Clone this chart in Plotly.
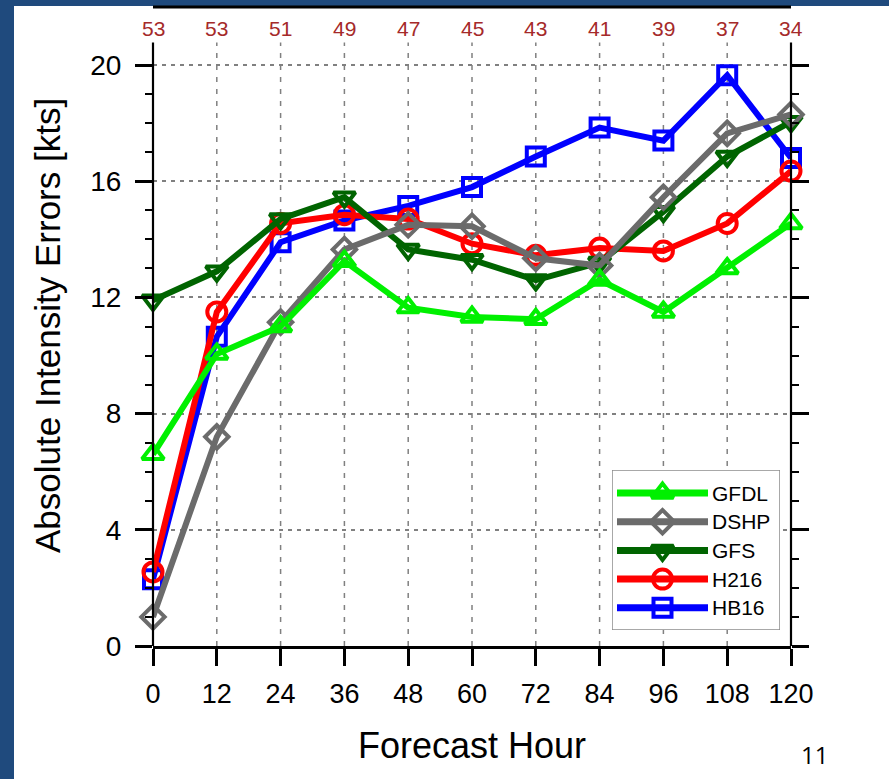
import plotly.graph_objects as go

# ---------------- data ----------------
hours = [0, 12, 24, 36, 48, 60, 72, 84, 96, 108, 120]
case_counts = [53, 53, 51, 49, 47, 45, 43, 41, 39, 37, 34]

gfdl = [6.6, 10.05, 11.0, 13.25, 11.65, 11.33, 11.25, 12.6, 11.5, 13.0, 14.55]
dshp = [1.0, 7.2, 11.15, 13.65, 14.5, 14.45, 13.35, 13.1, 15.45, 17.65, 18.3]
gfs = [11.9, 12.9, 14.7, 15.45, 13.65, 13.3, 12.6, 13.2, 14.95, 16.85, 18.05]
h216 = [2.55, 11.5, 14.55, 14.85, 14.7, 13.85, 13.45, 13.7, 13.6, 14.55, 16.35]
hb16 = [2.3, 10.65, 13.9, 14.65, 15.15, 15.8, 16.85, 17.85, 17.4, 19.65, 16.8]

legend_names = ["GFDL", "DSHP", "GFS", "H216", "HB16"]
y_major = [0, 4, 8, 12, 16, 20]
y_minor = [v for v in range(0, 21) if v % 4 != 0]

# ---------------- styles ----------------
FONT = "Liberation Sans"
styles = {
    "GFDL": dict(color="#00f000", symbol="triangle-up-open", size=19),
    "DSHP": dict(color="#6b6b6b", symbol="diamond-open", size=18),
    "GFS": dict(color="#006400", symbol="triangle-down-open", size=19),
    "H216": dict(color="#ff0000", symbol="circle-open", size=19),
    "HB16": dict(color="#0000ff", symbol="square-open", size=18),
}
series = {"GFDL": gfdl, "DSHP": dshp, "GFS": gfs, "H216": h216, "HB16": hb16}
draw_order = ["HB16", "H216", "GFS", "DSHP", "GFDL"]

W, H = 889, 779
L, R, T, B = 153, 791, 7, 646          # plot area in px
YMAX = 22.0
GRID_TOP = 20.78


def px2paper_x(px):
    return (px - L) / (R - L)


def px2paper_y(py):
    return (B - py) / (B - T)


fig = go.Figure()

for name in draw_order:
    st = styles[name]
    fig.add_trace(go.Scatter(
        x=hours, y=series[name], mode="lines+markers", name=name,
        line=dict(color=st["color"], width=6),
        marker=dict(symbol=st["symbol"], size=st["size"], color=st["color"],
                    line=dict(width=4, color=st["color"])),
        cliponaxis=False, showlegend=False, hoverinfo="skip",
    ))

# ---------------- custom legend (in a pixel-unit helper subplot) ----------------
LX0, LX1, LY0, LY1 = 612, 780, 470, 630
row_y0, row_dy = 493, 28.7
for i, name in enumerate(legend_names):
    st = styles[name]
    yy = row_y0 + i * row_dy
    fig.add_trace(go.Scatter(
        x=[617, 708], y=[yy, yy], mode="lines", xaxis="x2", yaxis="y2",
        line=dict(color=st["color"], width=7), showlegend=False, hoverinfo="skip",
        cliponaxis=False,
    ))
    fig.add_trace(go.Scatter(
        x=[662.5], y=[yy], mode="markers", xaxis="x2", yaxis="y2",
        marker=dict(symbol=st["symbol"], size=st["size"], color=st["color"],
                    line=dict(width=4, color=st["color"])),
        showlegend=False, hoverinfo="skip", cliponaxis=False,
    ))

shapes = []
# white slide panel
shapes.append(dict(type="rect", xref="paper", yref="paper",
                   x0=px2paper_x(14), x1=px2paper_x(W + 20),
                   y0=px2paper_y(H + 20), y1=px2paper_y(6),
                   fillcolor="white", line=dict(width=0), layer="below"))
# vertical dashed grid
for h in hours[1:-1]:
    shapes.append(dict(type="line", xref="x", yref="y", x0=h, x1=h, y0=0, y1=GRID_TOP,
                       line=dict(color="#808080", width=1.5, dash="5px,7px"), layer="below"))
# left / right axis lines (paper x so they are not clipped at the plot edge)
for xp in (0, 1):
    shapes.append(dict(type="line", xref="paper", yref="y", x0=xp, x1=xp, y0=0, y1=GRID_TOP,
                       line=dict(color="black", width=2.2), layer="above"))
# top frame line
shapes.append(dict(type="line", xref="paper", yref="paper", x0=0, x1=1, y0=1, y1=1,
                   line=dict(color="black", width=3), layer="above"))
# legend box
shapes.append(dict(type="rect", xref="x2", yref="y2", x0=LX0, x1=LX1, y0=LY0, y1=LY1,
                   fillcolor="white", line=dict(color="#8c8c8c", width=1.5), layer="below"))

annotations = []
for h, c in zip(hours, case_counts):
    annotations.append(dict(x=h, y=px2paper_y(28), xref="x", yref="paper", text=str(c),
                            showarrow=False, xanchor="center", yanchor="middle",
                            font=dict(family=FONT, size=21, color="#a52a2a")))
for i, name in enumerate(legend_names):
    annotations.append(dict(x=710, y=row_y0 + i * row_dy, xref="x2", yref="y2", text=name,
                            showarrow=False, xanchor="left", yanchor="middle",
                            font=dict(family=FONT, size=21, color="black")))
annotations.append(dict(x=0.5, y=px2paper_y(745), xref="paper", yref="paper",
                        text="Forecast Hour", showarrow=False, xanchor="center", yanchor="middle",
                        font=dict(family=FONT, size=36, color="black")))
annotations.append(dict(x=px2paper_x(47), y=px2paper_y(326), xref="paper", yref="paper",
                        text="Absolute Intensity Errors [kts]", textangle=-90, showarrow=False,
                        xanchor="center", yanchor="middle",
                        font=dict(family=FONT, size=35, color="black")))
annotations.append(dict(x=px2paper_x(814), y=px2paper_y(754), xref="paper", yref="paper",
                        text="11", showarrow=False, xanchor="center", yanchor="middle",
                        font=dict(family="Open Sans", size=24, color="black")))

fig.update_layout(
    width=W, height=H,
    margin=dict(l=L, r=W - R, t=T, b=H - B, pad=0),
    paper_bgcolor="#1f4a7d", plot_bgcolor="white",
    showlegend=False,
    shapes=shapes, annotations=annotations,
    xaxis=dict(range=[hours[0], hours[-1]], tickmode="array", tickvals=hours,
               ticktext=[str(h) for h in hours],
               ticks="outside", ticklen=17, tickwidth=3, tickcolor="black",
               showline=True, linewidth=2.5, linecolor="black",
               showgrid=False, zeroline=False, ticklabelstandoff=5,
               tickfont=dict(family=FONT, size=27, color="black")),
    yaxis=dict(range=[0, YMAX], tickmode="array", tickvals=y_major,
               ticktext=[str(v) for v in y_major],
               ticks="outside", ticklen=17, tickwidth=3, tickcolor="black",
               mirror="allticks", showline=False,
               showgrid=True, gridcolor="#808080", gridwidth=1.5, griddash="4px,5px",
               zeroline=False, ticklabelstandoff=8,
               minor=dict(tickmode="array", tickvals=y_minor, ticks="outside",
                          ticklen=7, tickwidth=1.5, tickcolor="black", showgrid=False),
               tickfont=dict(family=FONT, size=28, color="black")),
    xaxis2=dict(domain=[px2paper_x(LX0), px2paper_x(LX1)], range=[LX0, LX1],
                visible=False, anchor="y2"),
    yaxis2=dict(domain=[px2paper_y(LY1), px2paper_y(LY0)], range=[LY1, LY0],
                visible=False, anchor="x2"),
)

fig.write_html("out.html", config={"displayModeBar": False},
               post_script="document.body.style.margin='0';document.body.style.overflow='hidden';")
